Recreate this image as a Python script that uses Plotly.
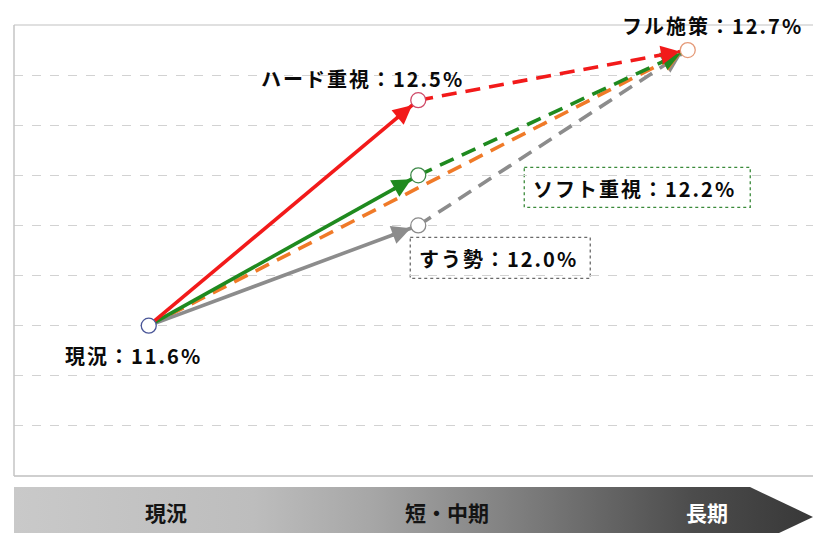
import math
import plotly.graph_objects as go

# ---- data -------------------------------------------------------------
stages = ["現況", "短・中期", "長期"]
stage_pos = [0.5, 1.5, 2.5]

base_label = "現況"
base_value = 11.6

scenario_names = ["ハード重視", "ソフト重視", "すう勢"]
scenario_values = [12.5, 12.2, 12.0]

full_label = "フル施策"
full_value = 12.7

grid_values = [11.2, 11.4, 11.6, 11.8, 12.0, 12.2, 12.4, 12.6]

# ---- styling ------------------------------------------------------------
line_colors = {"ハード重視": "#f21a1a", "ソフト重視": "#1f8a1f", "すう勢": "#8c8c8c"}
ring_colors = {"ハード重視": "#cf4a68", "ソフト重視": "#3f8a4a", "すう勢": "#8a8a8a"}
direct_color = "#f07a28"
base_ring = "#4a5698"
full_ring = "#e59a78"
draw_order = ["すう勢", "ソフト重視", "ハード重視"]

W, H = 813, 533
X_DOMAIN = [14 / W, 1]
Y_DOMAIN = [57 / H, 508 / H]
X_RANGE = [0, (W - 14) / 269.5]
Y_RANGE = [11.0, 12.8]
PX_X = (X_DOMAIN[1] - X_DOMAIN[0]) * W / (X_RANGE[1] - X_RANGE[0])
PX_Y = (Y_DOMAIN[1] - Y_DOMAIN[0]) * H / (Y_RANGE[1] - Y_RANGE[0])

LABEL_FONT = dict(family="Noto Sans CJK JP", size=20, color="#0a0a0a", weight="bold")
DASH = "15px,9px"
LW = 3.6
STANDOFF = 8
HEAD_SPAN = 22  # px of segment carrying the arrowhead


def fmt(name, v):
    return f'<span style="letter-spacing:2px">{name}：{v:.1f}%</span>'


fig = go.Figure()


def segment(xa, ya, xb, yb, color, dash):
    fig.add_trace(go.Scatter(
        x=[xa, xb], y=[ya, yb], mode="lines",
        line=dict(color=color, width=LW, dash=dash),
        hoverinfo="skip", showlegend=False))
    # arrowhead: a short annotation arrow ending at the target node
    length = math.hypot((xb - xa) * PX_X, (yb - ya) * PX_Y)
    t = 1 - (STANDOFF + HEAD_SPAN) / length
    fig.add_annotation(
        x=xb, y=yb, ax=xa + (xb - xa) * t, ay=ya + (yb - ya) * t,
        xref="x", yref="y", axref="x", ayref="y", text="",
        showarrow=True, arrowhead=2, arrowsize=1.05, arrowwidth=LW,
        arrowcolor=color, standoff=STANDOFF)


x0, x1, x2 = stage_pos

# long-term dashed paths (drawn underneath)
for name in draw_order:
    i = scenario_names.index(name)
    if name == "ソフト重視":
        segment(x0, base_value, x2, full_value, direct_color, DASH)
    segment(x1, scenario_values[i], x2, full_value, line_colors[name], DASH)

# short-term solid paths
for name in draw_order:
    i = scenario_names.index(name)
    segment(x0, base_value, x1, scenario_values[i], line_colors[name], "solid")

# node circles
fig.add_trace(go.Scatter(
    x=[x0] + [x1] * len(scenario_values) + [x2],
    y=[base_value] + scenario_values + [full_value],
    mode="markers",
    marker=dict(size=15, color="white",
                line=dict(width=1.3,
                          color=[base_ring] + [ring_colors[n] for n in scenario_names] + [full_ring])),
    hoverinfo="skip", showlegend=False))

# ---- value labels ----------------------------------------------------------
labels = [
    (x0, base_value, fmt(base_label, base_value), -15, -30),
    (x1, scenario_values[0], fmt(scenario_names[0], scenario_values[0]), -56, 22),
    (x1, scenario_values[1], fmt(scenario_names[1], scenario_values[1]), 216, -13),
    (x1, scenario_values[2], fmt(scenario_names[2], scenario_values[2]), 80, -33),
    (x2, full_value, fmt(full_label, full_value), 25, 25),
]
for lx, ly, txt, dx, dy in labels:
    fig.add_annotation(x=lx, y=ly, xref="x", yref="y", text=txt, showarrow=False,
                       xshift=dx, yshift=dy, font=LABEL_FONT)

# dotted frames around the two boxed labels
boxes = [
    (x1, scenario_values[1], 106, 332, 8, -32, "#3a8a3a"),
    (x1, scenario_values[2], -8, 172, -12, -53, "#6a6a6a"),
]
for bx, by, px0, px1, py0, py1, col in boxes:
    fig.add_shape(type="rect", xref="x", yref="y",
                  xsizemode="pixel", ysizemode="pixel",
                  xanchor=bx, yanchor=by, x0=px0, x1=px1, y0=py0, y1=py1,
                  line=dict(color=col, width=1.3, dash="dot"), layer="below")

# plot frame
fig.add_shape(type="line", xref="x domain", yref="y domain", x0=0, x1=1, y0=1, y1=1,
              line=dict(color="#d6d6d6", width=1.5))
fig.add_shape(type="line", xref="x domain", yref="y domain", x0=0, x1=1, y0=0, y1=0,
              line=dict(color="#cfcfcf", width=2))
fig.add_shape(type="line", xref="x domain", yref="y domain", x0=0, x1=0, y0=0, y1=1,
              line=dict(color="#c4c4c4", width=1.5))

# ---- timeline band ---------------------------------------------------------
band_left, band_shoulder, band_tip = 14 / W, 750 / W, 1.0
band_bottom, band_mid = -0.3, 0.35
fig.add_trace(go.Scatter(
    x=[band_left, band_shoulder, band_tip, band_shoulder, band_left, band_left],
    y=[1, 1, band_mid, band_bottom, band_bottom, 1],
    xaxis="x2", yaxis="y2", mode="lines", line=dict(width=0),
    fill="toself",
    fillgradient=dict(type="horizontal",
                      colorscale=[[0, "#c9c9c9"], [0.3, "#bdbdbd"], [0.45, "#a6a6a6"],
                                  [0.65, "#7a7a7a"], [0.85, "#4c4c4c"], [1, "#383838"]]),
    hoverinfo="skip", showlegend=False))

band_label_x = [166 / W, 447 / W, 707 / W]
band_label_color = ["#141414", "#141414", "#ffffff"]
for s, bxp, c in zip(stages, band_label_x, band_label_color):
    fig.add_annotation(x=bxp, y=0.45, xref="x2", yref="y2", text=s, showarrow=False,
                       font=dict(family="Noto Sans CJK JP", size=21, color=c, weight="bold"))

fig.update_layout(
    width=W, height=H,
    margin=dict(l=0, r=0, t=0, b=0),
    paper_bgcolor="white", plot_bgcolor="white",
    xaxis=dict(domain=X_DOMAIN, range=X_RANGE, showgrid=False,
               zeroline=False, showticklabels=False, showline=False, fixedrange=True),
    yaxis=dict(domain=Y_DOMAIN, range=Y_RANGE, tickvals=grid_values,
               showticklabels=False, gridcolor="#d2d2d2", griddash="dash", gridwidth=1,
               zeroline=False, showline=False, fixedrange=True),
    xaxis2=dict(domain=[0, 1], range=[0, 1], anchor="y2", visible=False, fixedrange=True),
    yaxis2=dict(domain=[0, 46 / H], range=[0, 1], anchor="x2", visible=False, fixedrange=True),
)

fig.write_html("out.html")
